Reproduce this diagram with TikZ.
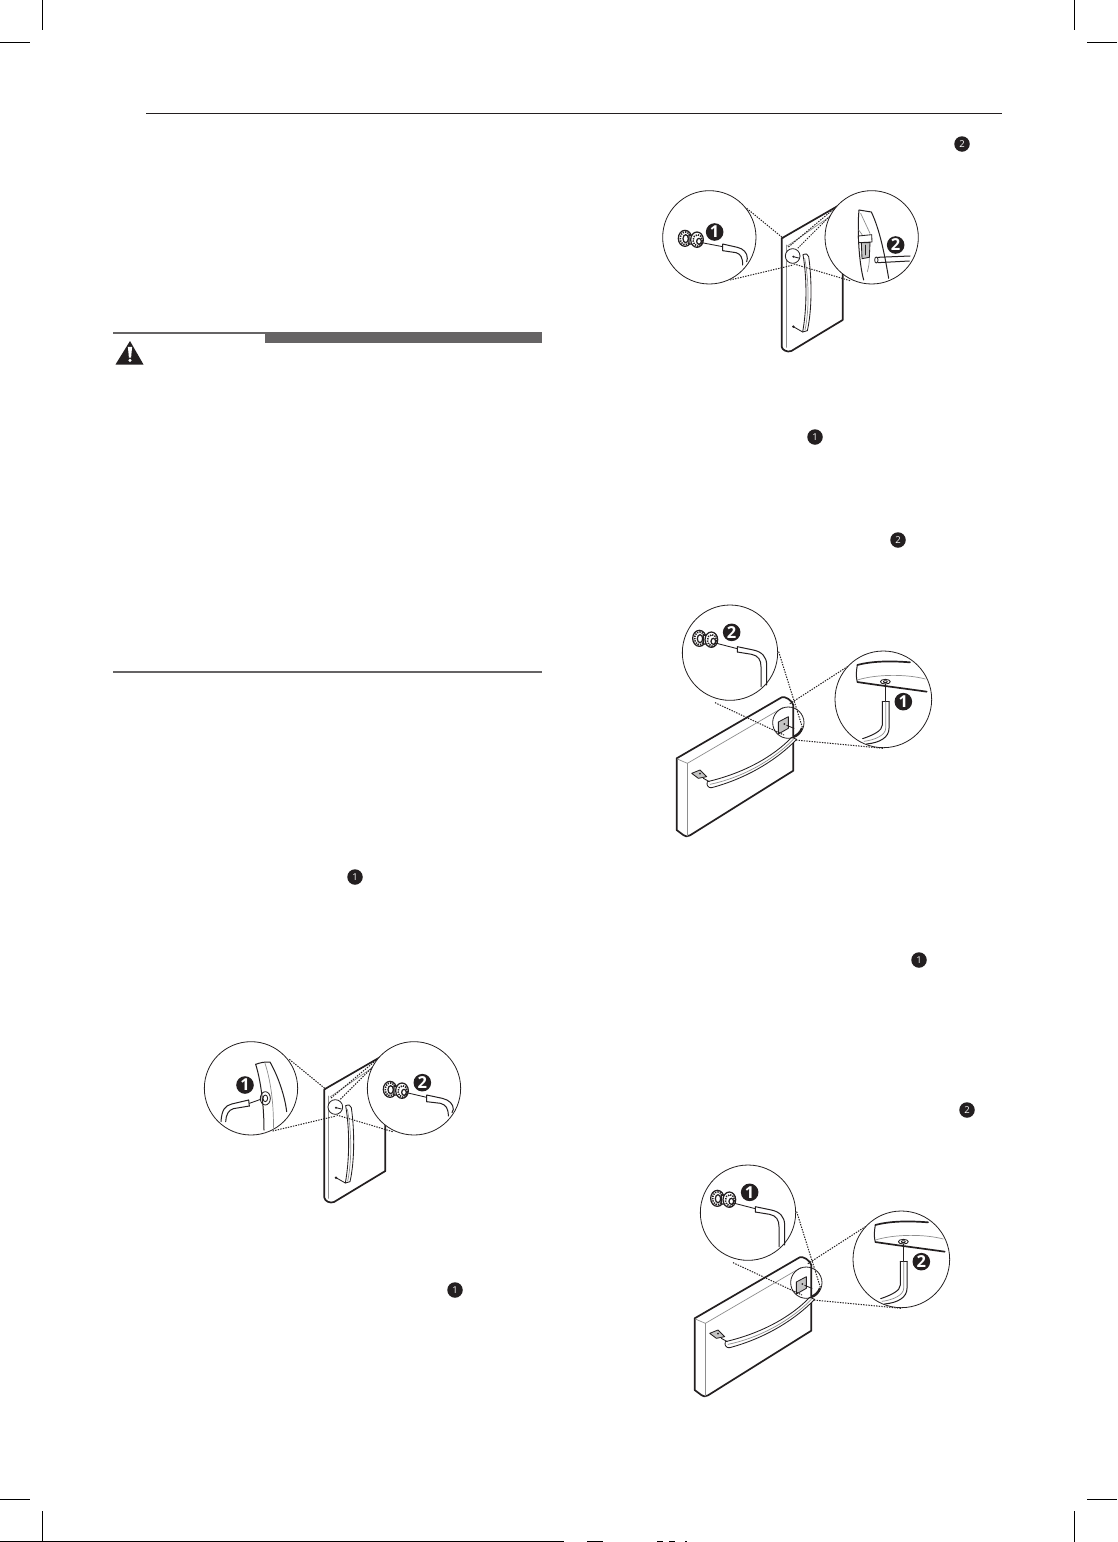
\documentclass[tikz,border=0pt]{standalone}
\usepackage{fontspec}
\setmainfont{Open Sans}
\definecolor{ink}{HTML}{231F20}
\definecolor{bar}{HTML}{666465}
\definecolor{soft}{HTML}{8E8E8E}
\definecolor{plaque}{HTML}{C4C4C4}
\tikzset{
 bigbadge/.style={circle,fill=ink,inner sep=0pt,minimum size=17.6pt,text=white,font=\fontsize{16.5}{16.5}\selectfont\bfseries},
 smallbadge/.style={circle,fill=ink,inner sep=0pt,minimum size=15.5pt,text=white,font=\fontsize{9.5}{9.5}\selectfont},
 crop/.style={line width=0.9pt,black},
 lens/.style={draw=ink,line width=0.8pt,fill=white},
 dots/.style={draw=ink,line width=1pt,dash pattern=on 1.4pt off 1.2pt},
 outline/.style={draw=ink,line width=1.7pt,line cap=round,line join=round},
 thin/.style={draw=ink,line width=0.85pt,line cap=round,line join=round},
 faint/.style={draw=soft,line width=0.7pt,line cap=round,line join=round},
 medium/.style={draw=ink,line width=1pt,line cap=round,line join=round},
 nutline/.style={fill=white,draw=ink,line width=1.25pt},
 ridges/.style={draw=ink,line width=1.6pt,dash pattern=on 1.3pt off 1.1pt},
}
% nut pair, origin at centre of the rear nut
\newcommand{\nutpair}{%
 \path[nutline] (0,0) ellipse [x radius=20,y radius=24];
 \path[ridges] (1,0) ellipse [x radius=15,y radius=19];
 \path[nutline] (2,1) ellipse [x radius=8,y radius=12];
 \path[nutline] (12,-10) -- (28,-8) -- (28,17) -- (12,17) -- cycle;
 \path[nutline] (36,4) ellipse [x radius=19,y radius=23];
 \path[ridges] (38,6) ellipse [x radius=14,y radius=17];
 \path[nutline] (42,9) ellipse [x radius=7,y radius=9];
}
% tall door, zoom coordinates of the first figure
\newcommand{\talldoor}{%
 \path[outline] (395,325) -- (565,227) -- (578,240) -- (578,570) -- (424,663) .. controls (412,668) and (396,660) .. (395,650) -- cycle;
 \path[faint] (408,345) -- (408,652);
 \path[faint] (412,348) -- (548,254);
 \path[thin] (459,374) .. controls (468,370) and (474,372) .. (476,380) .. controls (486,450) and (486,540) .. (472,602) -- (458,606) .. controls (470,540) and (472,450) .. (459,374) -- cycle;
 \path[faint] (464,385) .. controls (477,450) and (478,540) .. (465,600);
 \path[thin] (430,590) -- (458,606);
 \fill[ink] (430,590) circle [radius=4];
 \path[lens] (428,378) circle [radius=22];
 \fill[ink] (430,380) circle [radius=3.5];
 \path[thin] (430,380) -- (446,384);
 \path[dots] (290,235) -- (400,325);
 \path[dots] (240,450) -- (430,405);
 \path[dots] (556,233) -- (414,352);
 \path[dots] (540,258) -- (442,356);
 \path[dots] (600,452) -- (432,402);
}
% wide door, zoom coordinates of the second figure
\newcommand{\widedoor}{%
 \path[outline] (80,475) -- (395,292) .. controls (405,288) and (425,300) .. (430,315) -- (430,512) -- (120,706) .. controls (112,711) and (105,710) .. (100,705) -- (80,690) -- cycle;
 \path[faint] (82,477) -- (112,490) -- (400,322);
 \path[faint] (112,490) -- (112,708);
 \path[thin,fill=white] (172,545) .. controls (280,520) and (370,470) .. (425,412) -- (440,418) .. controls (380,480) and (290,535) .. (185,563) .. controls (176,565) and (168,556) .. (172,545) -- cycle;
 \path[faint] (180,553) .. controls (290,530) and (380,470) .. (430,418);
 \path[thin,fill=plaque] (125,520) -- (150,510) -- (170,530) -- (145,535) -- cycle;
 \path[thin] (160,535) -- (178,545);
 \fill[ink] (150,521) circle [radius=3];
 \path[lens,fill=none] (415,368) circle [radius=47];
 \path[thin,fill=plaque] (385,366) -- (415,350) -- (415,385) -- (385,402) -- cycle;
 \fill[ink] (403,372) circle [radius=3];
 \path[thin] (410,376) -- (432,385);
 \fill[ink] (428,408) .. controls (440,402) and (448,396) .. (453,383) -- (458,385) .. controls (455,400) and (445,409) .. (433,413) -- cycle;
 \path[dots] (386,155) -- (458,385);
 \path[dots] (195,308) -- (402,405);
 \path[dots] (600,195) -- (418,312);
 \path[dots] (438,420) -- (700,445);
}
% Allen key with a long vertical arm
\newcommand{\longkey}{%
 \path[lens] (240,158) circle [radius=143];
 \begin{scope}[shift={(148,115)}]\nutpair\end{scope}
 \path[thin] (200,130) -- (262,146);
 \path[medium] (262,140) -- (262,156) (262,140) -- (310,150) .. controls (335,155) and (350,170) .. (350,195) -- (350,255);
 \path[medium] (262,156) -- (305,163) .. controls (325,167) and (333,180) .. (333,200) -- (333,260);
}
% hole on the underside of the door with the key beneath it
\newcommand{\underkey}{%
 \path[lens] (700,298) circle [radius=145];
 \path[outline] (622,195) .. controls (670,182) and (730,183) .. (780,187);
 \path[medium] (622,195) .. controls (618,215) and (618,235) .. (622,246);
 \path[outline] (622,246) .. controls (680,255) and (760,265) .. (830,275);
 \path[faint] (622,240) .. controls (680,222) and (770,222) .. (826,237);
 \path[thin] (706,245) ellipse [x radius=15,y radius=7];
 \path[thin] (706,245) ellipse [x radius=6,y radius=3];
 \path[thin] (706,252) -- (706,302);
 \path[medium] (697,304) -- (717,304);
 \path[medium] (697,304) -- (697,375) .. controls (697,392) and (670,405) .. (638,416);
 \path[medium] (717,304) -- (717,385) .. controls (717,412) and (690,428) .. (650,432);
 \path[faint] (707,306) -- (707,385) .. controls (707,405) and (675,420) .. (642,424);
}
\begin{document}
\begin{tikzpicture}[x=1pt,y=-1pt]
\path[use as bounding box,fill=white] (0,0) rectangle (1117,1542);
% page furniture
\draw[crop] (42.5,0) -- (42.5,30) (0,42.5) -- (30,42.5);
\draw[crop] (1074.5,0) -- (1074.5,30) (1087,42.5) -- (1117,42.5);
\draw[crop] (0,1499.5) -- (30,1499.5) (42.5,1511) -- (42.5,1542);
\draw[crop] (1087,1499.5) -- (1117,1499.5) (1074.5,1511) -- (1074.5,1542);
\draw[crop] (0,1541.5) -- (564,1541.5);
\draw[crop] (587,1541.5) -- (603,1541.5) (657,1541.5) -- (663,1541.5) (669,1541.5) -- (675,1541.5) (685,1541.5) -- (687,1541.5);
\draw[ink,line width=1pt] (146,113) -- (1002,113);
% caution panel
\draw[bar,line width=1.7pt] (113,333.2) -- (265,333.2);
\fill[bar] (265,332) rectangle (541.5,342.8);
\fill[ink] (130,341) -- (143.5,364.5) -- (115.5,364.5) -- cycle;
\fill[white] (127.9,346.8) -- (132.1,346.8) -- (131.1,357.5) -- (128.9,357.5) -- cycle;
\fill[white] (130,360.3) circle [radius=1.7];
\draw[bar,line width=1.6pt] (113,672) -- (541.5,672);
% inline badges
\node[smallbadge] (ia) at (962,144) {2};
\node[smallbadge] (ib) at (815,437) {1};
\node[smallbadge] (ic) at (898,540) {2};
\node[smallbadge] (id) at (355,877) {1};
\node[smallbadge] (ie) at (455,1290) {1};
\node[smallbadge] (if) at (919,960) {1};
\node[smallbadge] (ig) at (967,1110) {2};
% figure: tall door, nut left, handle right
\begin{scope}[shift={(650,130)},scale=1/3]
 \talldoor
 \path[lens] (178,322) circle [radius=140];
 \begin{scope}[shift={(105,325)}]\nutpair\end{scope}
 \path[thin] (155,338) -- (218,350);
 \path[medium] (218,342) -- (218,362) (218,342) -- (262,352) .. controls (280,356) and (292,368) .. (292,385) -- (290,395);
 \path[medium] (218,362) -- (258,368) .. controls (272,372) and (278,382) .. (278,405);
 \node[bigbadge] (a1) at (194,306) {1};
 \path[lens] (665,322) circle [radius=140];
 \path[medium] (627,240) -- (664,246) .. controls (690,300) and (705,380) .. (716,445);
 \path[medium] (627,240) .. controls (622,290) and (625,390) .. (641,450);
 \path[faint] (632,250) -- (660,310) (626,300) .. controls (650,330) and (668,370) .. (652,425);
 \path[thin,fill=white] (625,318) -- (665,314) -- (666,336) -- (626,338) -- cycle;
 \path[thin,fill=plaque] (634,338) -- (660,338) -- (658,382) -- (636,386) -- cycle;
 \path[thin] (645,345) -- (645,375);
 \path[thin] (679,390) ellipse [x radius=5,y radius=9];
 \path[medium] (683,382) -- (780,378) (684,398) -- (778,393);
 \node[bigbadge] (a2) at (737,345) {2};
\end{scope}
% figure: wide door, key below right
\begin{scope}[shift={(650,600)},scale=1/3]
 \widedoor
 \longkey
 \underkey
 \node[bigbadge] (b2) at (245,97) {2};
 \node[bigbadge] (b1) at (760,305) {1};
\end{scope}
% figure: tall door, handle left, nut right
\begin{scope}[shift={(190,1040)},scale=1/3]
 \begin{scope}[shift={(8,-177)}]\talldoor\end{scope}
 \path[lens] (183,145) circle [radius=140];
 \path[medium] (197,73) .. controls (210,68) and (225,65) .. (240,66) .. controls (265,110) and (285,170) .. (290,215);
 \path[medium] (197,73) .. controls (215,130) and (222,210) .. (222,270);
 \path[faint] (225,70) .. controls (245,130) and (252,210) .. (250,270);
 \path[thin] (226,175) ellipse [x radius=15,y radius=20];
 \path[thin] (226,175) ellipse [x radius=7,y radius=10];
 \path[thin] (178,190) -- (212,178);
 \path[medium] (176,180) -- (178,198);
 \path[medium] (176,180) -- (125,192) .. controls (105,197) and (95,210) .. (93,245);
 \path[medium] (178,198) -- (130,206) .. controls (115,210) and (108,225) .. (107,245);
 \node[bigbadge] (c1) at (165,135) {1};
 \path[lens] (672,145) circle [radius=140];
 \begin{scope}[shift={(600,148)}]\nutpair\end{scope}
 \path[thin] (650,158) -- (710,172);
 \path[medium] (710,165) -- (710,185) (710,165) -- (757,175) .. controls (778,180) and (790,192) .. (790,208) -- (786,218);
 \path[medium] (710,185) -- (752,190) .. controls (768,195) and (775,205) .. (775,228);
 \node[bigbadge] (c2) at (697,128) {2};
\end{scope}
% figure: wide door, first key upper left
\begin{scope}[shift={(668,1160)},scale=1/3]
 \widedoor
 \longkey
 \underkey
 \node[bigbadge] (d1) at (245,97) {1};
 \node[bigbadge] (d2) at (760,305) {2};
\end{scope}
\end{tikzpicture}
\end{document}
